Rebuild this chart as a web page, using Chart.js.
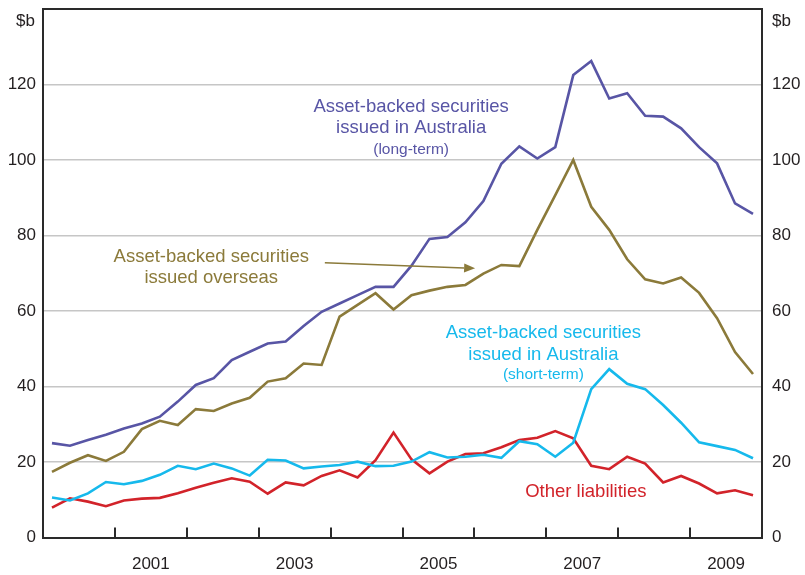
<!DOCTYPE html>
<html><head><meta charset="utf-8">
<script src="https://cdn.jsdelivr.net/npm/chart.js@4.4.0/dist/chart.umd.min.js"></script>
<style>html,body{margin:0;padding:0;background:#fff}#wrap{width:805px;height:575px}</style>
</head><body><div id="wrap"><canvas id="c" width="805" height="575"></canvas></div>
<script>
const quarters = [
  "2000Q1","2000Q2","2000Q3","2000Q4","2001Q1","2001Q2","2001Q3","2001Q4",
  "2002Q1","2002Q2","2002Q3","2002Q4","2003Q1","2003Q2","2003Q3","2003Q4",
  "2004Q1","2004Q2","2004Q3","2004Q4","2005Q1","2005Q2","2005Q3","2005Q4",
  "2006Q1","2006Q2","2006Q3","2006Q4","2007Q1","2007Q2","2007Q3","2007Q4",
  "2008Q1","2008Q2","2008Q3","2008Q4","2009Q1","2009Q2","2009Q3","2009Q4"
];
const absLongTerm = [25.0,24.3,25.8,27.2,28.9,30.2,32.0,36.0,40.4,42.2,47.0,49.2,51.4,51.9,56.0,59.8,62.0,64.2,66.4,66.4,72.0,79.1,79.6,83.5,89.1,99.0,103.6,100.4,103.4,122.5,126.2,116.3,117.7,111.7,111.5,108.4,103.4,99.1,88.5,85.7];
const absOverseas = [17.4,19.8,21.8,20.3,22.7,28.7,30.9,29.8,34.0,33.5,35.5,37.0,41.3,42.2,46.1,45.7,58.5,61.6,64.7,60.4,64.2,65.4,66.4,66.9,69.9,72.2,71.9,81.5,90.7,100.0,87.6,81.5,73.7,68.4,67.3,68.9,64.8,58.1,49.1,43.3];
const absShortTerm = [10.6,9.8,11.7,14.7,14.1,15.0,16.6,19.0,18.1,19.6,18.3,16.4,20.6,20.4,18.3,18.8,19.2,20.1,18.9,19.0,20.1,22.6,21.2,21.4,21.9,21.1,25.5,24.7,21.4,25.1,39.3,44.6,40.7,39.3,35.1,30.4,25.2,24.2,23.2,21.0];
const otherLiabilities = [7.9,10.4,9.5,8.3,9.8,10.3,10.5,11.7,13.2,14.5,15.7,14.8,11.6,14.6,13.8,16.3,17.8,15.9,20.5,27.8,20.7,17.0,20.1,22.1,22.3,23.9,25.8,26.4,28.2,26.3,19.0,18.1,21.4,19.6,14.6,16.3,14.3,11.7,12.5,11.2];
const yTickValues = [0,20,40,60,80,100,120];
const yearBoundaries = [2001,2002,2003,2004,2005,2006,2007,2008,2009];
const labelledYears = [2001,2003,2005,2007,2009];
const unitLabel = "$b";

const COL = {purple:"#5855a5", gold:"#8b7a3a", cyan:"#16b9ec", red:"#d2232a", axis:"#2a2a2a", grid:"#c6c6c6", text:"#231f20"};
const FONT = "'Liberation Sans', Arial, Helvetica, sans-serif";
Chart.defaults.font.family = FONT;

function qToX(q){ const p=q.split("Q"); return +p[0] + (+p[1]-0.5)/4; }
function series(vals){ return vals.map((v,i)=>({x:qToX(quarters[i]), y:v})); }

function ds(label, vals, color){
  return {label, data: series(vals), borderColor: color, backgroundColor: color,
    borderWidth: 2.6, pointRadius: 0, tension: 0, fill: false, yAxisID: "y", borderJoinStyle: "miter"};
}

const annotations = [
  {color: COL.purple, x: 2005.12, lines: [["Asset-backed securities",114.1,18.5],["issued in Australia",108.4,18.5],["(long-term)",102.8,15.5]]},
  {color: COL.gold, x: 2002.34, lines: [["Asset-backed securities",74.4,18.5],["issued overseas",68.8,18.5]]},
  {color: COL.cyan, x: 2006.96, lines: [["Asset-backed securities",54.1,18.5],["issued in Australia",48.3,18.5],["(short-term)",43.2,15.5]]},
  {color: COL.red, x: 2007.55, lines: [["Other liabilities",12.1,18.5]]}
];
const arrow = {color: COL.gold, from:[2003.92,72.8], to:[2006.01,71.3]};

const decor = {
  id: "decor",
  afterDraw(chart){
    const {ctx, chartArea:a, scales:{x, y}} = chart;
    ctx.save();
    ctx.strokeStyle = COL.axis; ctx.lineWidth = 2;
    ctx.beginPath(); ctx.moveTo(a.left-1, a.top); ctx.lineTo(a.right+1, a.top); ctx.stroke();
    ctx.fillStyle = COL.text; ctx.font = "17px " + FONT; ctx.textBaseline = "middle";
    ctx.textAlign = "right"; ctx.fillText(unitLabel, a.left - 8, a.top + 12);
    ctx.textAlign = "left"; ctx.fillText(unitLabel, a.right + 10, a.top + 12);
    ctx.textAlign = "center";
    annotations.forEach(an => {
      ctx.fillStyle = an.color;
      an.lines.forEach(l => {
        ctx.font = l[2] + "px " + FONT;
        ctx.fillText(l[0], x.getPixelForValue(an.x), y.getPixelForValue(l[1]));
      });
    });
    const x1 = x.getPixelForValue(arrow.from[0]), y1 = y.getPixelForValue(arrow.from[1]);
    const x2 = x.getPixelForValue(arrow.to[0]), y2 = y.getPixelForValue(arrow.to[1]);
    const ang = Math.atan2(y2-y1, x2-x1), L = 11, W = 4.5;
    const bx = x2 - L*Math.cos(ang), by = y2 - L*Math.sin(ang);
    ctx.strokeStyle = arrow.color; ctx.fillStyle = arrow.color; ctx.lineWidth = 1.6;
    ctx.beginPath(); ctx.moveTo(x1,y1); ctx.lineTo(bx,by); ctx.stroke();
    ctx.beginPath(); ctx.moveTo(x2,y2);
    ctx.lineTo(bx + W*Math.sin(ang), by - W*Math.cos(ang));
    ctx.lineTo(bx - W*Math.sin(ang), by + W*Math.cos(ang));
    ctx.closePath(); ctx.fill();
    ctx.restore();
  }
};

const yTickFont = {size: 17, family: FONT};
const noPad = s => { s.paddingTop = 0; s.paddingBottom = 0; s.paddingLeft = 0; s.paddingRight = 0; };

new Chart(document.getElementById("c"), {
  type: "line",
  data: {datasets: [
    ds("Asset-backed securities issued in Australia (long-term)", absLongTerm, COL.purple),
    ds("Asset-backed securities issued overseas", absOverseas, COL.gold),
    ds("Asset-backed securities issued in Australia (short-term)", absShortTerm, COL.cyan),
    ds("Other liabilities", otherLiabilities, COL.red)
  ]},
  options: {
    responsive: false, animation: false, devicePixelRatio: 1,
    layout: {padding: {top: 9, left: 0, right: 0, bottom: 0}},
    plugins: {legend: {display: false}, tooltip: {enabled: false}},
    scales: {
      x: {
        type: "linear", position: "bottom", min: 2000, max: 2010,
        afterBuildTicks: s => { const t=[]; yearBoundaries.forEach(v=>t.push({value:v})); labelledYears.forEach(v=>t.push({value:v+0.5})); s.ticks = t.sort((a,b)=>a.value-b.value); },
        afterFit: s => { s.height = 37.5; noPad(s); },
        ticks: {autoSkip: false, maxRotation: 0, minRotation: 0, padding: 27, color: COL.text, font: {size: 17, family: FONT},
          callback: v => (v % 1 !== 0 && labelledYears.includes(Math.floor(v))) ? String(Math.floor(v)) : ""},
        grid: {drawOnChartArea: false, drawTicks: true, tickLength: -10, lineWidth: 2, tickWidth: 2,
          tickColor: c => (c.tick && c.tick.value % 1 === 0) ? COL.axis : "rgba(0,0,0,0)", color: "rgba(0,0,0,0)"},
        border: {display: true, color: COL.axis, width: 2}
      },
      y: {
        type: "linear", position: "left", min: 0, max: 140,
        afterBuildTicks: s => { s.ticks = yTickValues.map(v=>({value:v})); },
        afterFit: s => { s.width = 43; noPad(s); },
        ticks: {padding: 7, color: COL.text, font: yTickFont},
        grid: {drawTicks: false, lineWidth: 1.5, color: c => (c.tick && c.tick.value > 0) ? COL.grid : "rgba(0,0,0,0)"},
        border: {display: true, color: COL.axis, width: 2}
      },
      y2: {
        type: "linear", position: "right", min: 0, max: 140,
        afterBuildTicks: s => { s.ticks = yTickValues.map(v=>({value:v})); },
        afterFit: s => { s.width = 43; noPad(s); },
        ticks: {padding: 10, color: COL.text, font: yTickFont},
        grid: {drawOnChartArea: false, drawTicks: false},
        border: {display: true, color: COL.axis, width: 2}
      }
    }
  },
  plugins: [decor]
});
</script>
</body></html>
